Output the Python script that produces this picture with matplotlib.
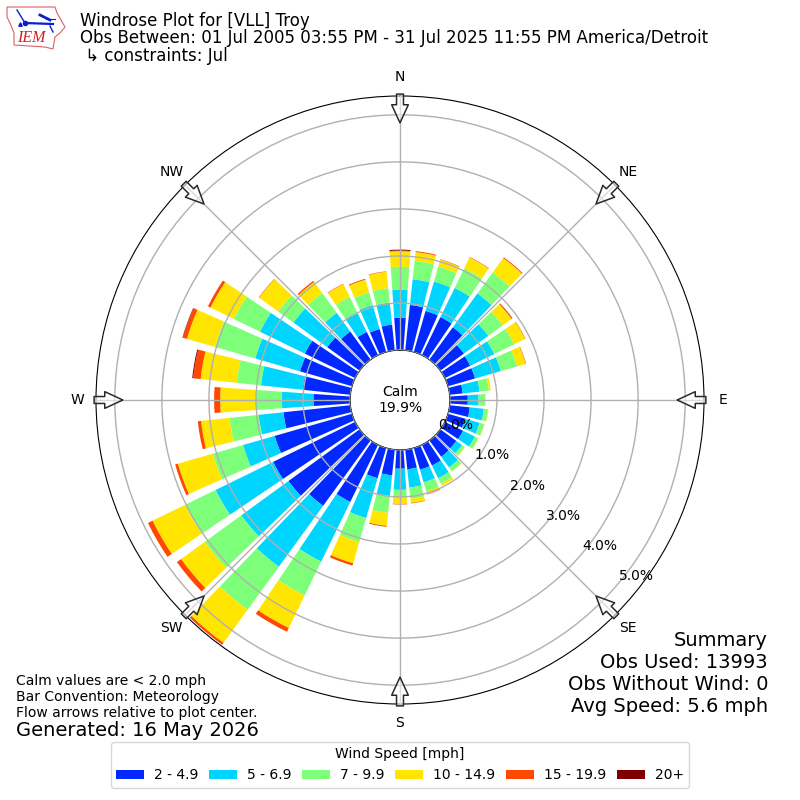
import numpy as np
import matplotlib
matplotlib.use("Agg")
import matplotlib.pyplot as plt
from matplotlib.patches import Polygon

directions = list(range(0, 360, 10))
s_2_5 = [.69,.97,.91,.90,.85,.62,.60,.60,.28,.38,.43,.38,.43,.42,.43,.49,.48,.42,.40,.55,.67,1.35,1.72,1.87,1.94,1.71,1.43,.78,1.02,1.15,1.19,.85,.74,.55,.51,.55]
s_5_7 = [.59,.55,.65,.69,.89,.64,.57,.57,.36,.23,.30,.32,.28,.15,.28,.30,.28,.39,.45,.44,.88,1.41,1.60,1.24,1.36,.70,.53,.67,.89,.99,1.06,.89,.49,.45,.53,.47]
s_7_10 = [.49,.39,.33,.46,.55,.38,.47,.36,.20,.14,.09,.10,.08,.07,.10,.13,.20,.24,.17,.36,.53,.80,1.13,.96,.72,.67,.62,.57,.52,.89,.62,.40,.52,.38,.28,.31]
s_10_15 = [.33,.19,.15,.26,.38,.23,.26,.19,.04,.01,.01,.01,.01,.01,.01,.05,.06,.09,.13,.28,.47,.77,.87,.62,.77,.77,.61,.74,.77,.62,.55,.50,.29,.30,.28,.35]
s_15_20 = [.015,.02,.01,.01,.02,.02,.01,.01,0,0,0,0,0,0,0,0,.01,.01,.01,.02,.05,.09,.05,.11,.11,.06,.07,.13,.16,.09,.06,.01,.03,.01,.02,.01]
s_20 = [.02,0,0,0,0,.005,0,0,0,0,0,0,0,0,0,0,0,0,0,0,0,0,0,0,0,0,0,0,.02,.01,0,0,0,0,0,0]
speed_labels = ["2 - 4.9", "5 - 6.9", "7 - 9.9", "10 - 14.9", "15 - 19.9", "20+"]
colors = ["#0028ff", "#00d5ff", "#7dff7a", "#ffe500", "#ff4800", "#800000"]
r_ticks = [0, 1, 2, 3, 4, 5]
compass = ["N", "NE", "E", "SE", "S", "SW", "W", "NW"]

fig = plt.figure(figsize=(8, 8), dpi=100)
ax = fig.add_axes([96/800, 96/800, 608/800, 608/800], projection="polar")
ax.set_theta_zero_location("N")
ax.set_theta_direction(-1)
theta = np.deg2rad(directions)
bottom = np.zeros(len(directions))
handles = []
for vals, c, lab in zip([s_2_5, s_5_7, s_7_10, s_10_15, s_15_20, s_20], colors, speed_labels):
    bars = ax.bar(theta, vals, width=np.deg2rad(8), bottom=bottom, color=c, linewidth=0, label=lab, zorder=1)
    handles.append(bars)
    bottom = bottom + np.array(vals)
ax.set_rorigin(-1.06)
ax.set_rlim(0, 5.4)
ax.set_axisbelow(False)
ax.set_thetagrids(np.arange(0, 360, 45), compass, fontsize=10)
ax.tick_params(axis="x", pad=3)
ax.set_rgrids(r_ticks, [f"{v:.1f}%" for v in r_ticks], angle=130, fontsize=10)
ax.grid(True, color="#b0b0b0", linewidth=1.0)

for a in np.arange(0, 360, 45):
    ax.annotate("", xy=(np.deg2rad(a), 4.83), xytext=(np.deg2rad(a), 5.44), annotation_clip=False,
                arrowprops=dict(facecolor=(1, 1, 1, 0.55), edgecolor="#2a2a2a", width=5, headwidth=12,
                                headlength=13, shrink=0, linewidth=1.1), zorder=10)

fig.text(0.5, 0.5, "Calm\n19.9%", ha="center", va="center", fontsize=10)
fig.text(80/800, 1-21/800, "Windrose Plot for [VLL] Troy", fontsize=12, va="center")
fig.text(80/800, 1-38/800, "Obs Between: 01 Jul 2005 03:55 PM - 31 Jul 2025 11:55 PM America/Detroit", fontsize=12, va="center")
fig.text(80/800, 1-56/800, " ↳ constraints: Jul", fontsize=12, va="center")
fig.text(16/800, 1-697/800, "Calm values are < 2.0 mph\nBar Convention: Meteorology\nFlow arrows relative to plot center.",
         fontsize=10, va="center", linespacing=1.2)
fig.text(16/800, 1-730/800, "Generated: 16 May 2026", fontsize=14, va="center")
fig.text(768/800, 1-673/800, "Summary\nObs Used: 13993\nObs Without Wind: 0\nAvg Speed: 5.6 mph",
         fontsize=14, ha="right", va="center", linespacing=1.2)

leg = fig.legend(handles=handles, labels=speed_labels, title="Wind Speed [mph]", ncol=6, loc="lower center",
                 bbox_to_anchor=(0.5, 0.0065), fontsize=10, title_fontsize=10, columnspacing=0.8, handletextpad=0.7)

# logo
lax = fig.add_axes([6/800, 1-52/800, 62/800, 46/800])
lax.set_xlim(6, 68); lax.set_ylim(52, 6); lax.axis("off")
outline = [(7,7),(55,7),(57,13),(65,27),(60,33),(55,37),(53,49),(45,47),(14,45),(14,33),(10,23),(7,17)]
lax.add_patch(Polygon(outline, closed=True, fill=False, edgecolor="#e06060", linewidth=0.8))
blue = "#0a20d0"
lax.plot([25, 53], [23, 24], color=blue, lw=1.6)
lax.plot([17, 25], [10, 23], color=blue, lw=1.0)
lax.plot([40, 50], [15, 20], color=blue, lw=2.0)
lax.plot([46, 55], [19, 19], color=blue, lw=0.8)
lax.plot([50, 53], [26, 32], color=blue, lw=1.0)
lax.plot([25], [23], "o", color=blue, ms=3)
lax.plot([20], [24], "^", color=blue, ms=2.5)
lax.text(17, 38.5, "IEM", color="#d02020", fontsize=11.5, family="Liberation Serif", style="italic", va="center")

fig.savefig("out.png", dpi=100)
